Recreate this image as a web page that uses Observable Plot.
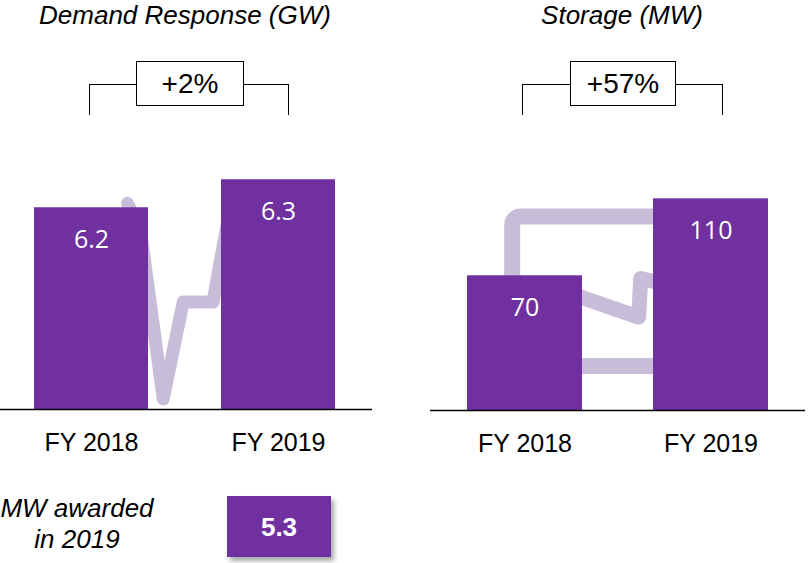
<!DOCTYPE html>
<html>
<head>
<meta charset="utf-8">
<script src="https://cdn.jsdelivr.net/npm/d3@7"></script>
<script src="https://cdn.jsdelivr.net/npm/@observablehq/plot@0.6"></script>
<style>
  body { margin: 0; background: #fff; }
  #root { position: relative; width: 808px; height: 563px; overflow: hidden;
          font-family: "Liberation Sans", Arial, sans-serif; color: #000; }
  .t { position: absolute; white-space: nowrap; transform: translateX(-50%); line-height: 1; }
  .title { font-size: 26px; font-style: italic; top: 2px; }
  .bracket { position: absolute; border: 1.5px solid #000; border-bottom: none; box-sizing: border-box; }
  .pct { position: absolute; box-sizing: border-box; border: 1.5px solid #000; background: #fff;
         display: flex; align-items: center; justify-content: center; font-size: 28px; line-height: 1; }
  .panel { position: absolute; top: 140px; }
  .award { position: absolute; left: 227px; top: 496px; width: 104px; height: 61px; background: #7030a0;
           box-shadow: 3px 4px 5px rgba(0,0,0,0.35); color: #fff; font-weight: bold; font-size: 26px;
           display: flex; align-items: center; justify-content: center; line-height: 1; }
  .note { font-size: 26px; font-style: italic; }
</style>
</head>
<body>
<div id="root">
  <div class="t title" style="left:185px">Demand Response (GW)</div>
  <div class="t title" style="left:622px">Storage (MW)</div>

  <div class="bracket" style="left:89px; top:84px; width:200px; height:31px"></div>
  <div class="pct" style="left:136px; top:61px; width:108px; height:45px">+2%</div>
  <div class="bracket" style="left:522px; top:84px; width:201px; height:31px"></div>
  <div class="pct" style="left:570px; top:61px; width:106px; height:45px">+57%</div>

  <div id="left" class="panel" style="left:0px"></div>
  <div id="right" class="panel" style="left:430px"></div>

  <div class="t note" style="left:77px; top:495px">MW awarded</div>
  <div class="t note" style="left:77px; top:526px">in 2019</div>
  <div class="award" id="award"></div>
</div>
<script>
// ---- data ----
const drCategories = ["FY 2018", "FY 2019"];
const drValues = [6.2, 6.3];
const drAxisMin = 5.48;              // truncated axis floor of the original
const drAxisMax = 6.44;
const stCategories = ["FY 2018", "FY 2019"];
const stValues = [70, 110];
const stAxisMax = 140.3;
const awardedValue = "5.3";

// decorative icons behind the bars (x in band steps from first band, y in data units)
const drIconT = [0.5, 0.569, 0.691, 0.798, 0.957, 1.037];
const drIconV = [6.214, 6.119, 5.516, 5.862, 5.862, 6.155];
const stBoxT = [0.243, 1.358];
const stBoxV = [22.9, 100.5];
const stZigT = [0.503, 0.923, 0.934, 1.251];
const stZigV = [62.3, 48.3, 68.3, 61.3];

const PURPLE = "#7030a0";
const LIGHT = "#c8bdd9";

const dr = drCategories.map((c, i) => ({cat: c, value: drValues[i]}));
const st = stCategories.map((c, i) => ({cat: c, value: stValues[i]}));

function bandPos(scales, cats) {
  const x = scales.x;
  const x0 = x(cats[0]);
  const step = x(cats[1]) - x0;
  return t => x0 + t * step;
}

function drIcon(index, scales) {
  const px = bandPos(scales, drCategories);
  const pts = drIconT.map((t, i) => [px(t), scales.y(drIconV[i])]);
  return d3.create("svg:path")
    .attr("d", d3.line()(pts))
    .attr("fill", "none").attr("stroke", LIGHT).attr("stroke-width", 13)
    .attr("stroke-linecap", "round").attr("stroke-linejoin", "round").node();
}

function stIcon(index, scales) {
  const px = bandPos(scales, stCategories);
  const g = d3.create("svg:g");
  const x1 = px(stBoxT[0]), x2 = px(stBoxT[1]);
  const yA = scales.y(stBoxV[1]), yB = scales.y(stBoxV[0]);
  g.append("rect").attr("x", x1).attr("y", yA).attr("width", x2 - x1).attr("height", yB - yA)
    .attr("rx", 8).attr("fill", "none").attr("stroke", LIGHT).attr("stroke-width", 16);
  const pts = stZigT.map((t, i) => [px(t), scales.y(stZigV[i])]);
  g.append("path").attr("d", d3.line()(pts)).attr("fill", "none").attr("stroke", LIGHT)
    .attr("stroke-width", 15).attr("stroke-linecap", "round").attr("stroke-linejoin", "round");
  return g.node();
}

const common = {
  marginLeft: 0, marginRight: 0, marginTop: 0,
  style: {fontFamily: "'Liberation Sans', Arial, sans-serif", fontSize: "25px", color: "#000", background: "transparent", overflow: "visible"}
};

const left = Plot.plot({
  ...common,
  width: 372, height: 330, marginBottom: 61,
  x: {domain: drCategories, paddingInner: 0.388, paddingOuter: 0.1835, align: 0.478, label: null, tickSize: 0, tickPadding: 24},
  y: {domain: [drAxisMin, drAxisMax], clamp: true, axis: null},
  marks: [
    drIcon,
    Plot.barY(dr, {x: "cat", y: "value", fill: PURPLE}),
    Plot.ruleY([drAxisMin], {stroke: "#000", strokeWidth: 1.5}),
    Plot.text(dr, {x: "cat", y: "value", text: d => String(d.value), dy: 32.5, fill: "#fff", fontSize: 25, fontFamily: "'Open Sans', sans-serif"})
  ]
});
document.getElementById("left").append(left);

const right = Plot.plot({
  ...common,
  width: 375, height: 330, marginBottom: 60,
  x: {domain: stCategories, paddingInner: 0.382, paddingOuter: 0.1937, align: 0.5, label: null, tickSize: 0, tickPadding: 24},
  y: {domain: [0, stAxisMax], axis: null},
  marks: [
    stIcon,
    Plot.barY(st, {x: "cat", y: "value", fill: PURPLE}),
    Plot.ruleY([0], {stroke: "#000", strokeWidth: 1.5}),
    Plot.text(st, {x: "cat", y: "value", text: d => String(d.value), dy: 32.5, fill: "#fff", fontSize: 25, fontFamily: "'Open Sans', sans-serif"})
  ]
});
document.getElementById("right").append(right);

document.getElementById("award").textContent = awardedValue;
</script>
</body>
</html>
